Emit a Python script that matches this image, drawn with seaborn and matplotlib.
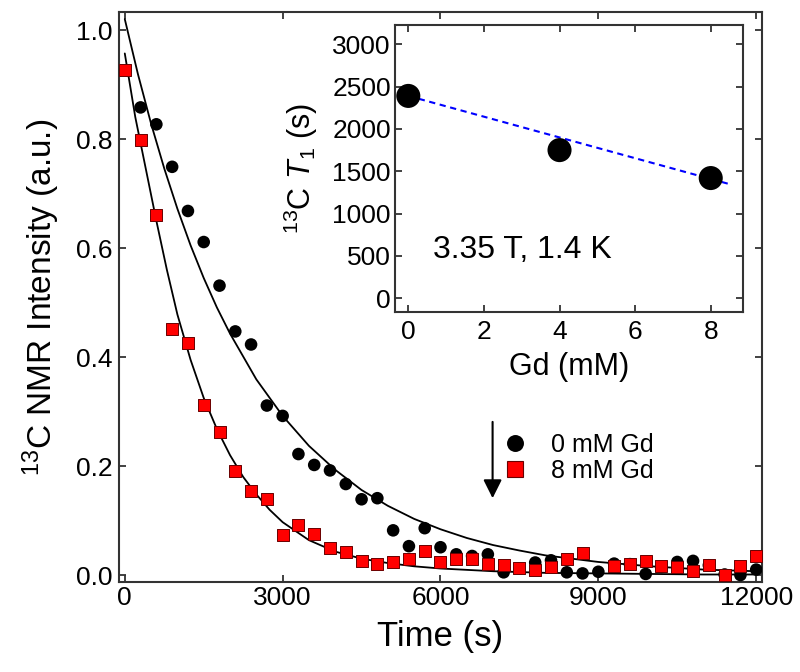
import matplotlib
matplotlib.use("Agg")
import matplotlib.pyplot as plt
from matplotlib.lines import Line2D
import pandas as pd
import seaborn as sns

# ─── Data ─────────────────────────────────────────────────────────
# 0 mM Gd decay (black circles)
time_0mM = [300, 600, 900, 1200, 1500, 1800, 2100, 2400, 2700, 3000,
            3300, 3600, 3900, 4200, 4500, 4800, 5100, 5400, 5700, 6000,
            6300, 6600, 6900, 7200, 7500, 7800, 8100, 8400, 8700, 9000,
            9300, 9600, 9900, 10200, 10500, 10800, 11100, 11400, 11700, 12000]
nmr_0mM = [0.858, 0.827, 0.749, 0.668, 0.611, 0.531, 0.447, 0.423, 0.311, 0.292,
           0.222, 0.202, 0.192, 0.167, 0.139, 0.141, 0.082, 0.053, 0.086, 0.051,
           0.038, 0.035, 0.038, 0.005, 0.012, 0.023, 0.027, 0.005, 0.003, 0.006,
           0.021, 0.020, 0.002, 0.015, 0.024, 0.026, 0.018, 0.001, 0.000, 0.010]

# 8 mM Gd decay (red squares)
time_8mM = [0, 300, 600, 900, 1200, 1500, 1800, 2100, 2400, 2700, 3000,
            3300, 3600, 3900, 4200, 4500, 4800, 5100, 5400, 5700, 6000,
            6300, 6600, 6900, 7200, 7500, 7800, 8100, 8400, 8700,
            9300, 9600, 9900, 10200, 10500, 10800, 11100, 11400, 11700, 12000]
nmr_8mM = [0.926, 0.798, 0.660, 0.452, 0.425, 0.312, 0.263, 0.191, 0.154, 0.139, 0.073,
           0.091, 0.076, 0.049, 0.043, 0.025, 0.021, 0.024, 0.030, 0.044, 0.024,
           0.030, 0.030, 0.021, 0.018, 0.013, 0.010, 0.014, 0.030, 0.040,
           0.016, 0.021, 0.025, 0.016, 0.014, 0.008, 0.019, 0.000, 0.016, 0.035]

# fitted decay curves
fit_time_0mM = [0, 250, 500, 750, 1000, 1250, 1500, 1750, 2000, 2500, 3000, 3500,
                4000, 4500, 5000, 5500, 6000, 6500, 7000, 7500, 8000, 9000,
                10000, 11000, 12000]
fit_0mM = [1.020, 0.919, 0.828, 0.746, 0.672, 0.605, 0.545, 0.491, 0.443, 0.359,
           0.292, 0.237, 0.193, 0.156, 0.127, 0.103, 0.084, 0.068, 0.055, 0.045,
           0.036, 0.024, 0.016, 0.010, 0.007]
fit_time_8mM = [0, 200, 400, 600, 800, 1000, 1250, 1500, 1750, 2000, 2250, 2500,
                2750, 3000, 3500, 4000, 4500, 5000, 5500, 6000, 7000, 8000,
                9000, 10000, 11000, 12000]
fit_8mM = [0.957, 0.840, 0.745, 0.650, 0.560, 0.478, 0.395, 0.325, 0.268, 0.220,
           0.180, 0.148, 0.120, 0.097, 0.064, 0.043, 0.030, 0.022, 0.016, 0.012,
           0.007, 0.004, 0.003, 0.002, 0.001, 0.001]

# inset: T1 vs Gd concentration
gd_mM = [0, 4, 8]
t1_s = [2390, 1750, 1420]
t1_fit_gd = [0, 8.5]
t1_fit_s = [2390, 1348]

df0 = pd.DataFrame({"time": time_0mM, "nmr": nmr_0mM})
df8 = pd.DataFrame({"time": time_8mM, "nmr": nmr_8mM})

# ─── Style ────────────────────────────────────────────────────────
sns.set_theme(style="ticks")
plt.rcParams["font.family"] = ["Liberation Sans", "DejaVu Sans"]
plt.rcParams.update({
    "mathtext.fontset": "custom",
    "mathtext.rm": "Liberation Sans",
    "mathtext.it": "Liberation Sans:italic",
    "mathtext.bf": "Liberation Sans:bold",
    "text.color": "black",
    "axes.labelcolor": "black",
    "xtick.color": "black",
    "ytick.color": "black",
    "xtick.labelcolor": "black",
    "ytick.labelcolor": "black",
})
SPINE = "#333333"

fig = plt.figure(figsize=(8, 6.72), dpi=100)
ax = fig.add_axes([0.14875, 0.1339, 0.80375, 0.8482])

sns.lineplot(x=fit_time_0mM, y=fit_0mM, ax=ax, color="black", lw=1.3,
             estimator=None, sort=False, zorder=2)
sns.lineplot(x=fit_time_8mM, y=fit_8mM, ax=ax, color="black", lw=1.3,
             estimator=None, sort=False, zorder=2)
sns.scatterplot(data=df0, x="time", y="nmr", ax=ax, marker="o", s=82,
                color="black", edgecolor="none", linewidth=0, zorder=3)
sns.scatterplot(data=df8, x="time", y="nmr", ax=ax, marker="s", s=74,
                color="red", edgecolor="#6a0000", linewidth=0.7, zorder=4)

ax.set_xlim(-110, 12110)
ax.set_ylim(-0.0128, 1.033)
ax.set_xticks([0, 3000, 6000, 9000, 12000])
ax.set_yticks([0.0, 0.2, 0.4, 0.6, 0.8, 1.0])
ax.set_yticklabels(["0.0", "0.2", "0.4", "0.6", "0.8", "1.0"])
ax.tick_params(direction="in", length=5, width=1.3, color=SPINE,
               labelcolor="black", top=True, right=True, labelsize=19)
ax.tick_params(axis="x", pad=3)
ax.tick_params(axis="y", pad=4.5)
for s in ax.spines.values():
    s.set_linewidth(1.5)
    s.set_color(SPINE)

ax.set_xlabel("Time (s)", fontsize=25, color="black")
ax.set_ylabel(r"$^{\mathrm{13}}$C NMR Intensity (a.u.)", fontsize=24, color="black")
ax.xaxis.set_label_coords(0.5, -0.066)
ax.yaxis.set_label_coords(-0.0887, 0.5)

# legend + arrow
handles = [
    Line2D([], [], ls="none", marker="o", ms=12.2, color="black", mec="none"),
    Line2D([], [], ls="none", marker="s", ms=12.2, mfc="red", mec="#6a0000", mew=0.8),
]
leg = ax.legend(handles, ["0 mM Gd", "8 mM Gd"], loc="upper left",
                bbox_to_anchor=(0.5964, 0.2623), frameon=False, fontsize=18,
                borderpad=0, borderaxespad=0, handlelength=1.0,
                handletextpad=0.94, labelspacing=0.1)
for t in leg.get_texts():
    t.set_color("black")
ax.annotate("", xy=(6990, 0.141), xytext=(6990, 0.281),
            arrowprops=dict(arrowstyle="-|>", color="black", lw=1.5,
                            mutation_scale=28, shrinkA=0, shrinkB=0))

# ─── Inset ────────────────────────────────────────────────────────
ax_in = fig.add_axes([0.49375, 0.5362, 0.4354, 0.4259])
ax_in.set_facecolor("white")
sns.lineplot(x=t1_fit_gd, y=t1_fit_s, ax=ax_in, color="blue", lw=1.5,
             dashes=False, estimator=None, zorder=2)
ax_in.lines[0].set_dashes((3.0, 2.2))
sns.scatterplot(x=gd_mM, y=t1_s, ax=ax_in, s=300, color="black",
                edgecolor="none", linewidth=0, zorder=3)

ax_in.set_xlim(-0.352, 8.862)
ax_in.set_ylim(-158, 3222)
ax_in.set_xticks([0, 2, 4, 6, 8])
ax_in.set_yticks([0, 500, 1000, 1500, 2000, 2500, 3000])
ax_in.tick_params(direction="in", length=5, width=1.3, color=SPINE,
                  labelcolor="black", top=True, right=True, labelsize=19)
ax_in.tick_params(axis="x", pad=6)
ax_in.tick_params(axis="y", pad=3)
for s in ax_in.spines.values():
    s.set_linewidth(1.5)
    s.set_color(SPINE)

ax_in.set_xlabel("Gd (mM)", fontsize=22, color="black")
ax_in.set_ylabel(r"$^{\mathrm{13}}$C $T_{\mathrm{1}}$ (s)", fontsize=22, color="black")
ax_in.xaxis.set_label_coords(0.5, -0.141)
ax_in.yaxis.set_label_coords(-0.215, 0.5)
ax_in.text(0.65, 476, "3.35 T, 1.4 K", fontsize=23, color="black",
           ha="left", va="baseline")

fig.savefig("out.png", dpi=100)
plt.close(fig)
